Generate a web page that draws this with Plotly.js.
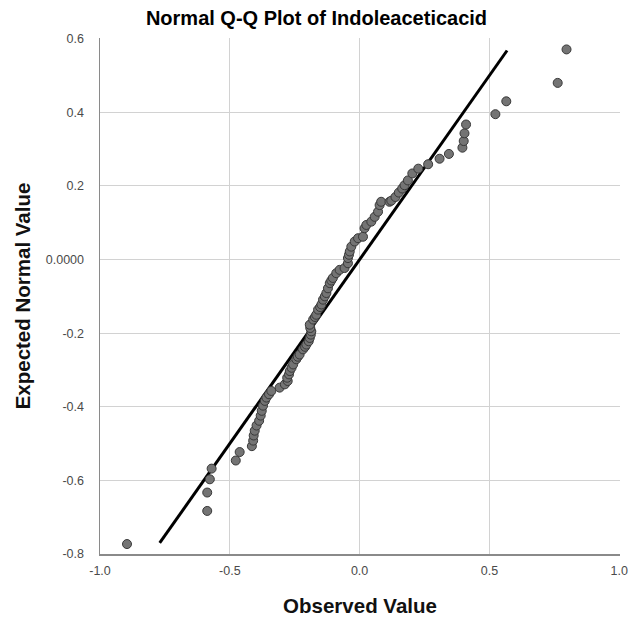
<!DOCTYPE html>
<html>
<head>
<meta charset="utf-8">
<script src="https://cdn.plot.ly/plotly-3.0.1.min.js"></script>
<style>html,body{margin:0;padding:0;background:#fff;}#chart{width:633px;height:624px;}</style>
</head>
<body>
<div id="chart"></div>
<script>
const observedValue = [
  -0.896, -0.587, -0.587, -0.577, -0.570, -0.477, -0.462, -0.415, -0.410, -0.408,
  -0.404, -0.397, -0.387, -0.381, -0.377, -0.372, -0.365, -0.359, -0.349, -0.340,
  -0.308, -0.288, -0.277, -0.279, -0.272, -0.269, -0.262, -0.256, -0.244, -0.238,
  -0.231, -0.218, -0.210, -0.205, -0.196, -0.192, -0.188, -0.186, -0.190, -0.192,
  -0.179, -0.172, -0.167, -0.160, -0.152, -0.147, -0.141, -0.134, -0.128, -0.122,
  -0.115, -0.109, -0.103, -0.090, -0.077, -0.058, -0.045, -0.045, -0.041, -0.038,
  -0.032, -0.019, -0.006, 0.013, 0.019, 0.026, 0.045, 0.058, 0.071, 0.077,
  0.083, 0.115, 0.122, 0.138, 0.151, 0.164, 0.173, 0.186, 0.203, 0.226,
  0.264, 0.308, 0.344, 0.396, 0.401, 0.404, 0.410, 0.523, 0.565, 0.763,
  0.797
];
const expectedNormal = [
  -0.773, -0.683, -0.633, -0.597, -0.568, -0.546, -0.523, -0.507, -0.492, -0.478,
  -0.465, -0.451, -0.438, -0.424, -0.411, -0.397, -0.384, -0.375, -0.366, -0.357,
  -0.348, -0.339, -0.330, -0.321, -0.312, -0.303, -0.294, -0.285, -0.271, -0.264,
  -0.258, -0.244, -0.237, -0.231, -0.222, -0.213, -0.204, -0.195, -0.186, -0.177,
  -0.163, -0.156, -0.150, -0.136, -0.129, -0.122, -0.109, -0.100, -0.091, -0.078,
  -0.064, -0.057, -0.050, -0.037, -0.028, -0.023, -0.010, 0.004, 0.013, 0.022,
  0.035, 0.049, 0.058, 0.062, 0.085, 0.094, 0.103, 0.116, 0.130, 0.148,
  0.157, 0.157, 0.160, 0.170, 0.182, 0.193, 0.202, 0.215, 0.234, 0.247,
  0.259, 0.274, 0.287, 0.304, 0.322, 0.343, 0.367, 0.395, 0.430, 0.480,
  0.571
];
// Reference line (y = x) endpoints
const refLineX = [-0.77, 0.568];
const refLineY = [-0.77, 0.568];

const xTickVals = [-1.0, -0.5, 0.0, 0.5, 1.0];
const xTickText = ['-1.0', '-0.5', '0.0', '0.5', '1.0'];
const yTickVals = [0.6, 0.4, 0.2, 0.0, -0.2, -0.4, -0.6, -0.8];
const yTickText = ['0.6', '0.4', '0.2', '0.0000', '-0.2', '-0.4', '-0.6', '-0.8'];

const FONT = 'Liberation Sans, Arial, sans-serif';

const traces = [
  {
    x: refLineX, y: refLineY, type: 'scatter', mode: 'lines',
    line: {color: '#000000', width: 3}, hoverinfo: 'skip', showlegend: false
  },
  {
    x: observedValue, y: expectedNormal, type: 'scatter', mode: 'markers',
    marker: {size: 9, color: '#747474', line: {color: '#383838', width: 1}},
    showlegend: false
  }
];

const layout = {
  width: 633, height: 624,
  paper_bgcolor: '#ffffff', plot_bgcolor: '#ffffff',
  margin: {l: 100, r: 13, t: 38, b: 70, pad: 0},
  font: {family: FONT, color: '#333333', size: 12},
  title: {
    text: '<b>Normal Q-Q Plot of Indoleaceticacid</b>',
    font: {family: FONT, size: 20, color: '#000000'},
    x: 0.5, xanchor: 'center', xref: 'container',
    y: 1 - 17.5 / 624, yanchor: 'middle', yref: 'container'
  },
  xaxis: {
    range: [-1, 1.003], tickvals: xTickVals, ticktext: xTickText,
    showgrid: true, gridcolor: '#d2d2d2', gridwidth: 1,
    zeroline: false, showline: true, linecolor: '#8a8a8a', linewidth: 1.5,
    ticks: '', ticklabelstandoff: 4,
    tickfont: {family: FONT, size: 12.5, color: '#4a4a4a'},
    title: {text: '<b>Observed Value</b>', font: {family: FONT, size: 20.5, color: '#111111'}, standoff: 22}
  },
  yaxis: {
    range: [-0.8, 0.602], tickvals: yTickVals, ticktext: yTickText,
    showgrid: true, gridcolor: '#d2d2d2', gridwidth: 1,
    zeroline: false, showline: true, linecolor: '#8a8a8a', linewidth: 1.5,
    ticks: '', ticklabelstandoff: 12,
    tickfont: {family: FONT, size: 12.5, color: '#4a4a4a'},
    title: {text: '<b>Expected Normal Value</b>', font: {family: FONT, size: 20.5, color: '#111111'}, standoff: 9}
  }
};

Plotly.newPlot('chart', traces, layout, {displayModeBar: false, staticPlot: true});
</script>
</body>
</html>
